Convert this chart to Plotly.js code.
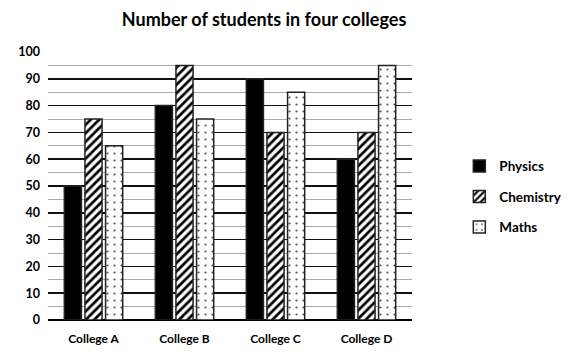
<!DOCTYPE html>
<html>
<head>
<meta charset="utf-8">
<script src="https://cdn.plot.ly/plotly-3.0.1.min.js"></script>
<style>html,body{margin:0;padding:0;background:#fff;}#chart{width:583px;height:362px;}</style>
</head>
<body>
<div id="chart"></div>
<script>
var colleges = ["College A", "College B", "College C", "College D"];
var physics = [50, 80, 90, 60];
var chemistry = [75, 95, 70, 70];
var maths = [65, 75, 85, 95];
var yTicks = [0, 10, 20, 30, 40, 50, 60, 70, 80, 90, 100];

var font = "Lato, 'Open Sans', sans-serif";
var line = {color: "#222", width: 1.5};

var traces = [
  {type: "bar", name: "<b>Physics</b>", x: colleges, y: physics, legendgroup: "p",
   marker: {color: "#000", line: line}},
  {type: "bar", name: "<b>Chemistry</b>", x: colleges, y: chemistry, legendgroup: "c",
   marker: {color: "#fff", line: line,
     pattern: {shape: "/", fgcolor: "#000", bgcolor: "#fff", size: 6, solidity: 0.45}}},
  {type: "bar", name: "<b>Maths</b>", x: colleges, y: maths, legendgroup: "m",
   marker: {color: "#fff", line: line,
     pattern: {shape: ".", fgcolor: "#555", bgcolor: "#fff", size: 7, solidity: 0.08}}}
];

var layout = {
  width: 583, height: 362,
  margin: {l: 48, r: 171, t: 52, b: 42},
  paper_bgcolor: "#fff", plot_bgcolor: "#fff",
  title: {text: "<b>Number of students in four colleges</b>", x: 0.453, xanchor: "center", y: 0.945, yanchor: "middle",
          font: {family: font, size: 18, color: "#000"}},
  barmode: "group", bargap: 0.32, bargroupgap: 0.17,
  font: {family: font, color: "#000"},
  xaxis: {showgrid: false, zeroline: false, showline: false, ticks: "", ticklabelstandoff: 10,
          tickfont: {family: font, size: 12, color: "#000"}, tickprefix: "<b>", ticksuffix: "</b>"},
  yaxis: {range: [0, 100], tickvals: yTicks, ticktext: yTicks.map(function(v){return "<b>" + v + "</b>";}),
          showgrid: true, gridcolor: "#111", gridwidth: 1.6,
          zeroline: true, zerolinecolor: "#000", zerolinewidth: 2.2,
          showline: false, ticks: "", ticklabelstandoff: 7,
          tickfont: {family: font, size: 12.5, color: "#000"},
          minor: {dtick: 5, showgrid: true, gridcolor: "#aaa", gridwidth: 1}},
  legend: {x: 1.13, xanchor: "left", y: 0.46, yanchor: "middle",
           font: {family: font, size: 13.5, color: "#000"},
           tracegroupgap: 10, itemwidth: 30, traceorder: "grouped"},
  showlegend: true
};

Plotly.newPlot("chart", traces, layout, {displayModeBar: false, staticPlot: true});
</script>
</body>
</html>
